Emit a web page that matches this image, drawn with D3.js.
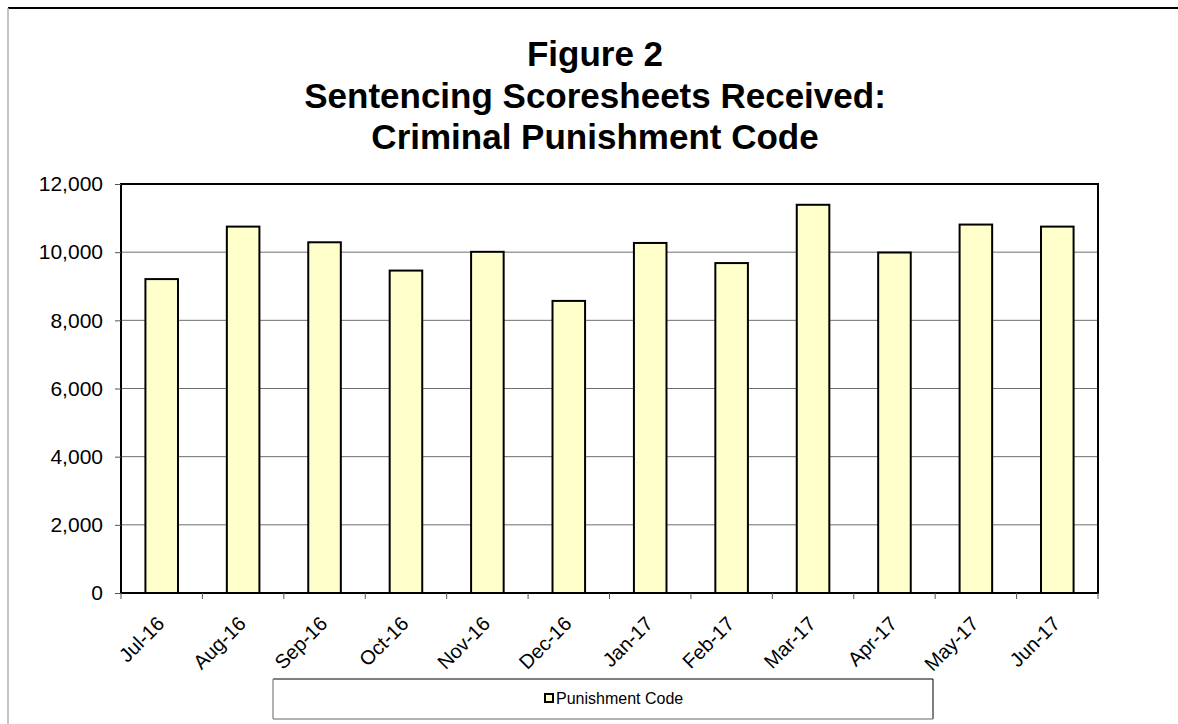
<!DOCTYPE html>
<html>
<head>
<meta charset="utf-8">
<script src="https://cdn.jsdelivr.net/npm/d3@7"></script>
<style>
  html, body { margin: 0; padding: 0; background: #fff; }
  svg { display: block; font-family: "Liberation Sans", Arial, sans-serif; }
</style>
</head>
<body>
<svg id="chart" width="1178" height="724"></svg>
<script>
const months = ["Jul-16","Aug-16","Sep-16","Oct-16","Nov-16","Dec-16","Jan-17","Feb-17","Mar-17","Apr-17","May-17","Jun-17"];
const punishmentCode = [9210, 10750, 10290, 9460, 10010, 8570, 10270, 9680, 11390, 9990, 10810, 10750];
const yTicks = [0, 2000, 4000, 6000, 8000, 10000, 12000];
const titleLines = ["Figure 2", "Sentencing Scoresheets Received:", "Criminal Punishment Code"];
const seriesName = "Punishment Code";

const svg = d3.select("#chart");
const W = 1178, H = 724;
const plot = { left: 121, right: 1098, top: 184, bottom: 593 };

// outer chart frame
svg.append("line").attr("x1", 8).attr("x2", W).attr("y1", 8).attr("y2", 8)
  .attr("stroke", "#000").attr("stroke-width", 2);
svg.append("line").attr("x1", 8).attr("x2", 8).attr("y1", 8).attr("y2", H)
  .attr("stroke", "#b0b0b0").attr("stroke-width", 1.5);

// title
const title = svg.append("text").attr("text-anchor", "middle")
  .attr("font-weight", "bold").attr("font-size", 35).attr("fill", "#000");
titleLines.forEach((t, i) => {
  title.append("tspan").attr("x", 595).attr("y", 66 + i * 41.5).text(t);
});

const x = d3.scaleBand().domain(months).range([plot.left, plot.right]).paddingInner(0.6).paddingOuter(0.3);
const y = d3.scaleLinear().domain([0, 12000]).range([plot.bottom, plot.top]);

// gridlines
svg.append("g").selectAll("line").data(yTicks.filter(v => v > 0 && v < 12000)).join("line")
  .attr("x1", plot.left).attr("x2", plot.right)
  .attr("y1", d => y(d)).attr("y2", d => y(d))
  .attr("stroke", "#6e6e6e").attr("stroke-width", 1);

// bars
svg.append("g").selectAll("rect").data(punishmentCode).join("rect")
  .attr("x", (d, i) => x(months[i]))
  .attr("y", d => y(d))
  .attr("width", x.bandwidth())
  .attr("height", d => y(0) - y(d))
  .attr("fill", "#FFFFCC").attr("stroke", "#000").attr("stroke-width", 2);

// plot border
svg.append("rect").attr("x", plot.left).attr("y", plot.top)
  .attr("width", plot.right - plot.left).attr("height", plot.bottom - plot.top)
  .attr("fill", "none").attr("stroke", "#000").attr("stroke-width", 2);

// y axis
const yAxis = d3.axisLeft(y).tickValues(yTicks).tickFormat(d3.format(",")).tickSize(6).tickPadding(12);
const gy = svg.append("g").attr("transform", `translate(${plot.left},0)`).call(yAxis);
gy.select(".domain").remove();
gy.selectAll(".tick line").attr("stroke", "#555");
gy.selectAll(".tick text").attr("font-size", 21).attr("fill", "#000")
  .attr("font-family", "Liberation Sans, Arial, sans-serif");

// x axis ticks at band boundaries
const boundaries = d3.range(months.length + 1).map(i => plot.left + i * (plot.right - plot.left) / months.length);
svg.append("g").selectAll("line").data(boundaries).join("line")
  .attr("x1", d => d).attr("x2", d => d).attr("y1", plot.bottom).attr("y2", plot.bottom + 6)
  .attr("stroke", "#555").attr("stroke-width", 1);

// x labels
svg.append("g").selectAll("text").data(months).join("text")
  .attr("text-anchor", "end")
  .attr("font-size", 20).attr("fill", "#000")
  .attr("transform", d => `translate(${x(d) + x.bandwidth() / 2 + 4},${plot.bottom + 32}) rotate(-45)`)
  .text(d => d);

// legend
const lg = svg.append("g");
lg.append("line").attr("x1", 273).attr("x2", 933).attr("y1", 679).attr("y2", 679).attr("stroke", "#000").attr("stroke-width", 1);
lg.append("line").attr("x1", 933).attr("x2", 933).attr("y1", 679).attr("y2", 719).attr("stroke", "#000").attr("stroke-width", 1);
lg.append("line").attr("x1", 273).attr("x2", 273).attr("y1", 679).attr("y2", 719).attr("stroke", "#999").attr("stroke-width", 1.5);
lg.append("line").attr("x1", 273).attr("x2", 933).attr("y1", 719).attr("y2", 719).attr("stroke", "#999").attr("stroke-width", 1.5);
lg.append("rect").attr("x", 545).attr("y", 694).attr("width", 8).attr("height", 8)
  .attr("fill", "#FFFFCC").attr("stroke", "#000").attr("stroke-width", 2);
lg.append("text").attr("x", 556).attr("y", 704).attr("font-size", 16).attr("fill", "#000").text(seriesName);
</script>
</body>
</html>
